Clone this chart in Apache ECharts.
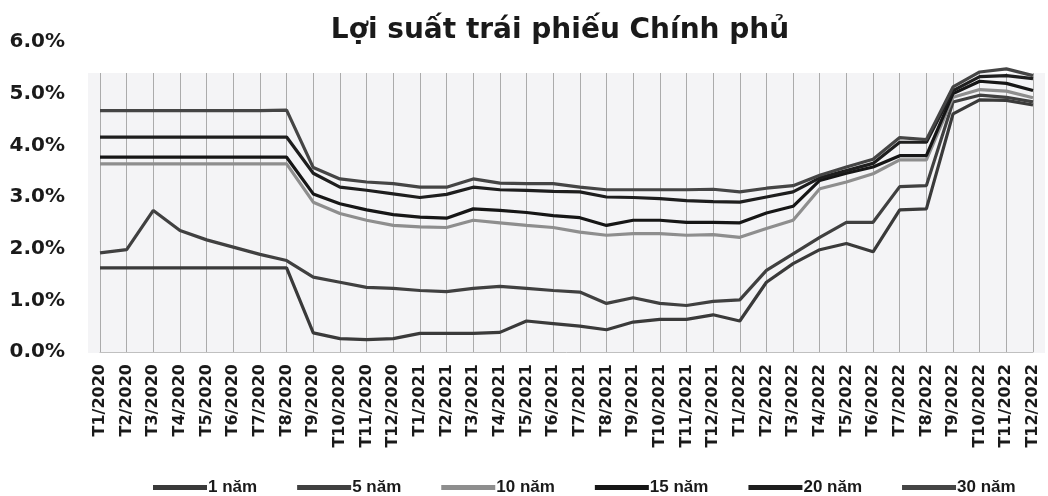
<!DOCTYPE html>
<html>
<head>
<meta charset="utf-8">
<script src="https://cdn.jsdelivr.net/npm/echarts@6/dist/echarts.min.js"></script>
<style>
  html, body { margin: 0; padding: 0; background: #fff; }
  #chart { width: 1048px; height: 496px; }
</style>
</head>
<body>
<div id="chart"></div>
<script>
// thang T1/2020 .. T12/2022
const months = [];
for (let y = 2020; y <= 2022; y++) {
    for (let m = 1; m <= 12; m++) months.push('T' + m + '/' + y);
}

const names = ['1 năm', '5 năm', '10 năm', '15 năm', '20 năm', '30 năm'];

const y1 = [1.63, 1.63, 1.63, 1.63, 1.63, 1.63, 1.63, 1.63, 0.37, 0.26, 0.24, 0.26,
    0.36, 0.36, 0.36, 0.38, 0.60, 0.55, 0.50, 0.43, 0.58, 0.63, 0.63, 0.72,
    0.60, 1.35, 1.71, 1.98, 2.10, 1.94, 2.75, 2.77, 4.61, 4.88, 4.87, 4.78];
const y5 = [1.92, 1.98, 2.74, 2.35, 2.17, 2.03, 1.89, 1.77, 1.45, 1.35, 1.25, 1.23,
    1.19, 1.17, 1.23, 1.27, 1.23, 1.19, 1.16, 0.94, 1.05, 0.94, 0.90, 0.98,
    1.01, 1.58, 1.90, 2.22, 2.51, 2.51, 3.20, 3.22, 4.84, 4.97, 4.93, 4.84];
const y10 = [3.64, 3.64, 3.64, 3.64, 3.64, 3.64, 3.64, 3.64, 2.90, 2.68, 2.55, 2.45,
    2.42, 2.41, 2.55, 2.50, 2.45, 2.41, 2.32, 2.26, 2.29, 2.29, 2.26, 2.27,
    2.22, 2.39, 2.55, 3.16, 3.29, 3.45, 3.72, 3.72, 4.93, 5.08, 5.05, 4.92];
const y15 = [3.77, 3.77, 3.77, 3.77, 3.77, 3.77, 3.77, 3.77, 3.06, 2.87, 2.75, 2.66,
    2.61, 2.59, 2.77, 2.74, 2.70, 2.64, 2.60, 2.45, 2.55, 2.55, 2.51, 2.51,
    2.50, 2.69, 2.82, 3.32, 3.46, 3.58, 3.80, 3.80, 5.00, 5.24, 5.20, 5.06];
const y20 = [4.16, 4.16, 4.16, 4.16, 4.16, 4.16, 4.16, 4.16, 3.46, 3.19, 3.13, 3.06,
    2.99, 3.05, 3.19, 3.14, 3.13, 3.11, 3.10, 3.00, 2.99, 2.97, 2.93, 2.91,
    2.90, 3.00, 3.10, 3.37, 3.51, 3.65, 4.06, 4.06, 5.06, 5.33, 5.35, 5.29];
const y30 = [4.67, 4.67, 4.67, 4.67, 4.67, 4.67, 4.67, 4.68, 3.57, 3.35, 3.29, 3.26,
    3.19, 3.19, 3.35, 3.27, 3.26, 3.26, 3.19, 3.14, 3.14, 3.14, 3.14, 3.15,
    3.10, 3.17, 3.22, 3.42, 3.58, 3.73, 4.15, 4.11, 5.13, 5.42, 5.48, 5.35];

const yTicks = [0, 1, 2, 3, 4, 5, 6];
const lineColors = ['#3a3a3a', '#404040', '#8e8e8e', '#161616', '#1e1e1e', '#454545'];
const allData = [y1, y5, y10, y15, y20, y30];

let chart = echarts.init(document.getElementById('chart'));

let seriesList = names.map(function (n, i) {
    return {
        name: n,
        type: 'line',
        xAxisIndex: 0,
        yAxisIndex: 0,
        data: allData[i],
        symbol: 'none',
        lineStyle: { width: 3.2, color: lineColors[i] },
        itemStyle: { color: lineColors[i] },
        z: 3 + i
    };
});

let options = {
    backgroundColor: '#ffffff',
    animation: false,
    textStyle: { fontFamily: 'DejaVu Sans, sans-serif' },
    title: {
        text: 'Lợi suất trái phiếu Chính phủ',
        left: 555,
        textAlign: 'center',
        top: 12,
        textStyle: { fontSize: 28, fontWeight: 'bold', color: '#1a1a1a', fontFamily: 'DejaVu Sans' }
    },
    // nen xam cua vung ve
    graphic: [{
        type: 'rect',
        z: -10,
        shape: { x: 88, y: 73, width: 957, height: 280 },
        style: { fill: '#f4f4f6' }
    }],
    grid: [
        { left: 100, right: 15, top: 42, bottom: 144 },
        // truc nhan + luoi doc, chi cao den vung nen
        { left: 100, right: 15, top: 73, bottom: 144 }
    ],
    legend: {
        top: 474,
        left: 148,
        itemGap: 40,
        itemWidth: 54,
        itemHeight: 5,
        icon: 'rect',
        data: names,
        textStyle: {
            fontSize: 17, fontWeight: 'bold', color: '#1a1a1a',
            fontFamily: 'Liberation Sans Narrow, Liberation Sans, sans-serif',
            padding: [0, 0, 0, -4]
        }
    },
    xAxis: [{
        type: 'category',
        gridIndex: 0,
        boundaryGap: false,
        data: months,
        show: false
    }, {
        type: 'category',
        gridIndex: 1,
        boundaryGap: false,
        data: months,
        axisLine: { lineStyle: { color: '#c0c0c0' } },
        axisTick: { show: false },
        splitLine: { show: true, lineStyle: { color: '#ababab', width: 1 } },
        axisLabel: {
            interval: 0,
            rotate: 90,
            margin: 12,
            fontSize: 16,
            fontWeight: 'bold',
            color: '#1a1a1a',
            fontFamily: 'DejaVu Sans'
        }
    }],
    yAxis: [{
        type: 'value',
        gridIndex: 0,
        min: yTicks[0],
        max: yTicks[yTicks.length - 1],
        interval: 1,
        axisLine: { show: false },
        axisTick: { show: false },
        splitLine: { show: false },
        axisLabel: {
            margin: 35,
            fontSize: 20,
            fontWeight: 'bold',
            color: '#1a1a1a',
            fontFamily: 'DejaVu Sans',
            formatter: function (v) { return v.toFixed(1) + '%'; }
        }
    }, {
        type: 'value',
        gridIndex: 1,
        show: false
    }],
    series: seriesList
};

chart.setOption(options);
</script>
</body>
</html>
